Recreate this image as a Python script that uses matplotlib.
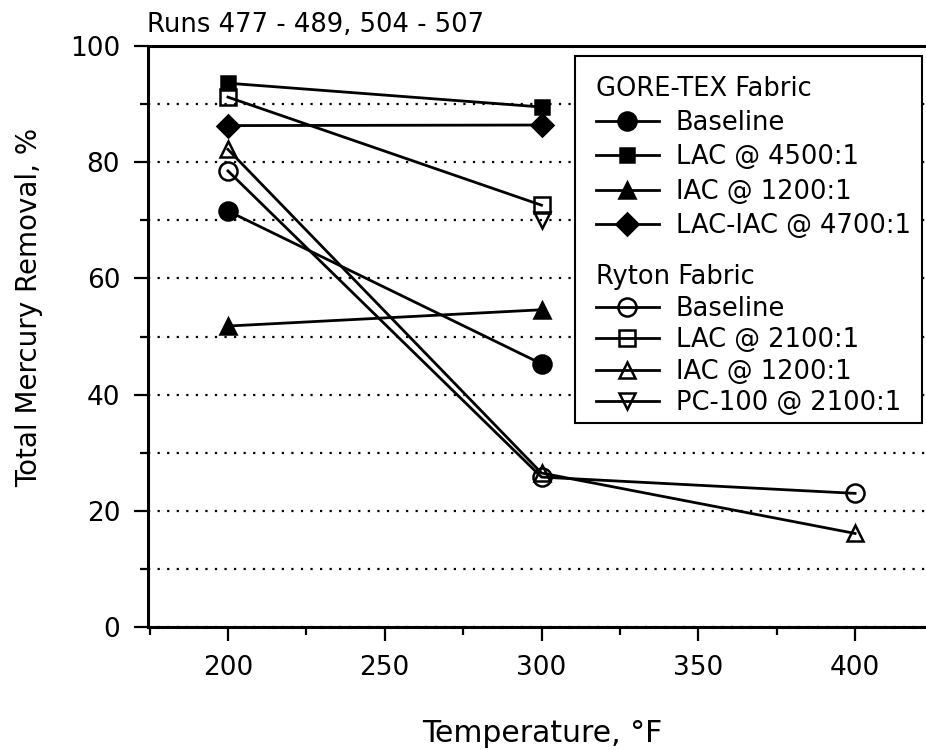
import matplotlib.pyplot as plt
from matplotlib.patches import Rectangle
from matplotlib.ticker import MultipleLocator

temps = [200, 300, 400]

# GORE-TEX fabric runs
gore_baseline = [71.6, 45.3]
gore_lac_4500 = [93.6, 89.5]
gore_iac_1200 = [51.8, 54.6]
gore_lac_iac_4700 = [86.3, 86.4]

# Ryton fabric runs
ryton_baseline = [78.5, 25.8, 23.0]
ryton_lac_2100 = [91.2, 72.6]
ryton_iac_1200 = [82.2, 26.5, 16.1]
ryton_pc100_temps = [300]
ryton_pc100_2100 = [70.0]

plt.rcParams['font.family'] = ['DejaVu Sans']

fig = plt.figure(figsize=(9.26, 7.5), dpi=100)
ax = fig.add_axes([148 / 926, 1 - 627 / 750, 788 / 926, 581 / 750])

style = dict(color='black', lw=2, mec='black', mew=1.8)

gore_lines = [
    ax.plot(temps[:2], gore_baseline, marker='o', ms=13, mfc='black', label='Baseline', **style)[0],
    ax.plot(temps[:2], gore_lac_4500, marker='s', ms=10.5, mfc='black', label='LAC @ 4500:1', **style)[0],
    ax.plot(temps[:2], gore_iac_1200, marker='^', ms=12, mfc='black', label='IAC @ 1200:1', **style)[0],
    ax.plot(temps[:2], gore_lac_iac_4700, marker='D', ms=11, mfc='black', label='LAC-IAC @ 4700:1', **style)[0],
]

ryton_lines = [
    ax.plot(temps, ryton_baseline, marker='o', ms=13, mfc='none', label='Baseline', **style)[0],
    ax.plot(temps[:2], ryton_lac_2100, marker='s', ms=11, mfc='none', label='LAC @ 2100:1', **style)[0],
    ax.plot(temps, ryton_iac_1200, marker='^', ms=12, mfc='none', label='IAC @ 1200:1', **style)[0],
    ax.plot(ryton_pc100_temps, ryton_pc100_2100, marker='v', ms=12, mfc='none', label='PC-100 @ 2100:1', **style)[0],
]

ax.set_xlim(174.5, 425.8)
ax.set_ylim(0, 100)
ax.xaxis.set_major_locator(MultipleLocator(50))
ax.xaxis.set_minor_locator(MultipleLocator(25))
ax.yaxis.set_major_locator(MultipleLocator(20))
ax.yaxis.set_minor_locator(MultipleLocator(10))
ax.tick_params(which='major', direction='out', length=10, width=1.6, labelsize=19, pad=10)
ax.tick_params(which='minor', direction='out', length=5.5, width=1.6)
ax.grid(axis='y', which='both', color='black', linestyle=(0, (1, 3.3)), lw=1.6)
for sp in ax.spines.values():
    sp.set_linewidth(2.2)

ax.set_xlabel('Temperature, °F', fontsize=21.5)
ax.xaxis.set_label_coords(0.5, -0.158)
ax.set_ylabel('Total Mercury Removal, %', fontsize=20)
ax.yaxis.set_label_coords(-0.1326, 0.55)

fig.text(147 / 926, 1 - 32 / 750, 'Runs 477 - 489, 504 - 507', fontsize=18.6, va='baseline')

# legend frame shared by both fabric groups
box = Rectangle((575 / 926, 1 - 423 / 750), 347 / 926, 367 / 750, transform=fig.transFigure,
                facecolor='white', edgecolor='black', lw=1.5, zorder=4, clip_on=False)
ax.add_artist(box)

leg_kw = dict(loc='upper left', frameon=False, borderpad=0, fontsize=18.5, title_fontsize=18.5,
              alignment='left', handlelength=2.45, handletextpad=0.66,
              bbox_transform=fig.transFigure)
leg1 = ax.legend(handles=gore_lines, title='GORE-TEX Fabric', labelspacing=0.32,
                 bbox_to_anchor=(583 / 926, 1 - 63 / 750), **leg_kw)
ax.add_artist(leg1)
ax.legend(handles=ryton_lines, title='Ryton Fabric', labelspacing=0.22,
          bbox_to_anchor=(583 / 926, 1 - 251 / 750), **leg_kw)

fig.savefig('out.png', dpi=100)
